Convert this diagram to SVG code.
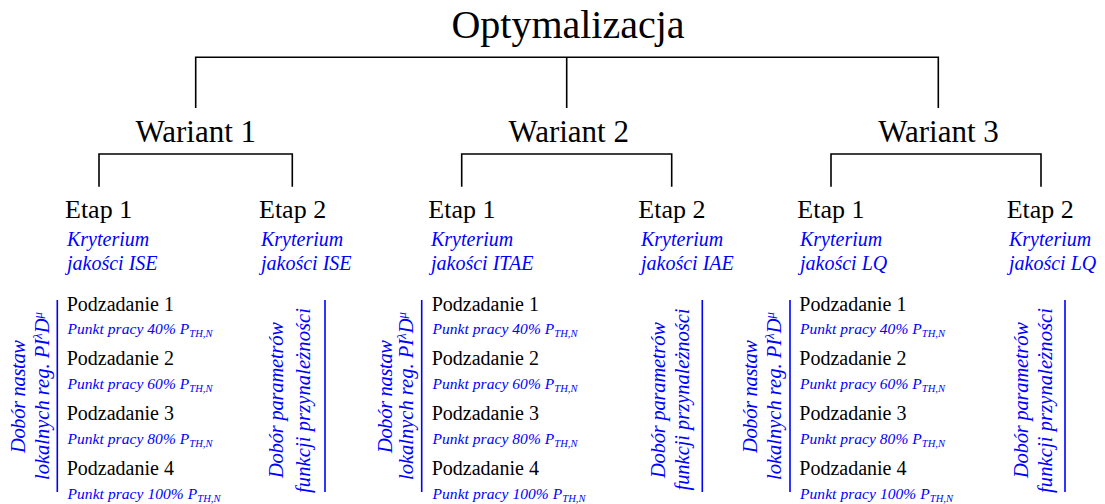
<svg xmlns="http://www.w3.org/2000/svg" width="1105" height="504" viewBox="0 0 1105 504">
<style>
text{font-family:"Liberation Serif","Times New Roman",serif;}
.title{font-size:40px;fill:#000;text-anchor:middle;}
.war{font-size:31px;fill:#000;text-anchor:middle;}
.etap{font-size:26px;fill:#000;}
.kry{font-size:20px;font-style:italic;fill:#0000ff;}
.pod{font-size:20px;fill:#000;}
.pkt{font-size:15.5px;font-style:italic;fill:#0000ff;}
.sub{font-size:10.5px;}
.rot{font-size:20.5px;font-style:italic;fill:#0000ff;text-anchor:middle;}
.conn{stroke:#000;stroke-width:1.6;fill:none;}
.bl{stroke:#0000ff;stroke-width:1.6;fill:none;}
</style>
<g id="connectors">
<path class="conn" d="M195.7,108 V57.3 H938.3 V108 M566.7,57.3 V108"/>
<path class="conn" d="M99,186.7 V154 H292.3 V186.7"/>
<path class="conn" d="M461.7,186.7 V154 H671.7 V186.7"/>
<path class="conn" d="M831,186.7 V154 H1041 V186.7"/>
</g>
<g id="root"><text class="title" x="568" y="37.5">Optymalizacja</text></g>
<g id="wariant1"><text class="war" x="195.8" y="141.7">Wariant 1</text></g>
<g id="wariant2"><text class="war" x="568.7" y="141.7">Wariant 2</text></g>
<g id="wariant3"><text class="war" x="938.5" y="141.7">Wariant 3</text></g>

<g id="w1-etap1">
<text class="etap" x="65" y="218.3">Etap 1</text>
<text class="kry" x="67" y="245.7">Kryterium</text>
<text class="kry" x="67" y="270.3">jakości ISE</text>
</g>
<g id="w1-etap2">
<text class="etap" x="259" y="218.3">Etap 2</text>
<text class="kry" x="261" y="245.7">Kryterium</text>
<text class="kry" x="261" y="270.3">jakości ISE</text>
</g>
<g id="w2-etap1">
<text class="etap" x="428.3" y="218.3">Etap 1</text>
<text class="kry" x="431" y="245.7">Kryterium</text>
<text class="kry" x="431" y="270.3">jakości ITAE</text>
</g>
<g id="w2-etap2">
<text class="etap" x="638.3" y="218.3">Etap 2</text>
<text class="kry" x="641" y="245.7">Kryterium</text>
<text class="kry" x="641" y="270.3">jakości IAE</text>
</g>
<g id="w3-etap1">
<text class="etap" x="797.3" y="218.3">Etap 1</text>
<text class="kry" x="800" y="245.7">Kryterium</text>
<text class="kry" x="800" y="270.3">jakości LQ</text>
</g>
<g id="w3-etap2">
<text class="etap" x="1006.7" y="218.3">Etap 2</text>
<text class="kry" x="1009" y="245.7">Kryterium</text>
<text class="kry" x="1009" y="270.3">jakości LQ</text>
</g>

<!-- Wariant 1 subtasks -->
<g id="w1-podzadania">
<line class="bl" x1="57.3" y1="300" x2="57.3" y2="492"/>
<text class="rot" transform="translate(25,396.5) rotate(-90)" textLength="113" lengthAdjust="spacing">Dobór nastaw</text>
<text class="rot" transform="translate(48.5,396) rotate(-90)">lokalnych reg. PI<tspan font-size="13" dy="-7">λ</tspan><tspan dy="7">D</tspan><tspan font-size="13" dy="-7">μ</tspan></text>
<text class="pod" x="66.7" y="310.7">Podzadanie 1</text>
<text class="pkt" x="67.5" y="333.8" textLength="145" lengthAdjust="spacing">Punkt pracy 40% P<tspan class="sub" dy="3">TH,N</tspan></text>
<text class="pod" x="66.7" y="365.3">Podzadanie 2</text>
<text class="pkt" x="67.5" y="388.6" textLength="145" lengthAdjust="spacing">Punkt pracy 60% P<tspan class="sub" dy="3">TH,N</tspan></text>
<text class="pod" x="66.7" y="420">Podzadanie 3</text>
<text class="pkt" x="67.5" y="443.6" textLength="145" lengthAdjust="spacing">Punkt pracy 80% P<tspan class="sub" dy="3">TH,N</tspan></text>
<text class="pod" x="66.7" y="475">Podzadanie 4</text>
<text class="pkt" x="67.5" y="498.6" textLength="153" lengthAdjust="spacing">Punkt pracy 100% P<tspan class="sub" dy="3">TH,N</tspan></text>
</g>
<g id="w1-funkcje">
<line class="bl" x1="325" y1="300" x2="325" y2="492"/>
<text class="rot" transform="translate(283,400) rotate(-90)" textLength="156" lengthAdjust="spacing">Dobór parametrów</text>
<text class="rot" transform="translate(310,400.5) rotate(-90)" textLength="185" lengthAdjust="spacing">funkcji przynależności</text>
</g>

<!-- Wariant 2 subtasks -->
<g id="w2-podzadania">
<line class="bl" x1="421.7" y1="300" x2="421.7" y2="492"/>
<text class="rot" transform="translate(391.5,396.5) rotate(-90)" textLength="113" lengthAdjust="spacing">Dobór nastaw</text>
<text class="rot" transform="translate(413,396) rotate(-90)">lokalnych reg. PI<tspan font-size="13" dy="-7">λ</tspan><tspan dy="7">D</tspan><tspan font-size="13" dy="-7">μ</tspan></text>
<text class="pod" x="431.7" y="310.7">Podzadanie 1</text>
<text class="pkt" x="432.5" y="333.8" textLength="145" lengthAdjust="spacing">Punkt pracy 40% P<tspan class="sub" dy="3">TH,N</tspan></text>
<text class="pod" x="431.7" y="365.3">Podzadanie 2</text>
<text class="pkt" x="432.5" y="388.6" textLength="145" lengthAdjust="spacing">Punkt pracy 60% P<tspan class="sub" dy="3">TH,N</tspan></text>
<text class="pod" x="431.7" y="420">Podzadanie 3</text>
<text class="pkt" x="432.5" y="443.6" textLength="145" lengthAdjust="spacing">Punkt pracy 80% P<tspan class="sub" dy="3">TH,N</tspan></text>
<text class="pod" x="431.7" y="475">Podzadanie 4</text>
<text class="pkt" x="432.5" y="498.6" textLength="153" lengthAdjust="spacing">Punkt pracy 100% P<tspan class="sub" dy="3">TH,N</tspan></text>
</g>
<g id="w2-funkcje">
<line class="bl" x1="702.3" y1="300" x2="702.3" y2="492"/>
<text class="rot" transform="translate(665,400) rotate(-90)" textLength="156" lengthAdjust="spacing">Dobór parametrów</text>
<text class="rot" transform="translate(688.5,399.5) rotate(-90)" textLength="182" lengthAdjust="spacing">funkcji przynależności</text>
</g>

<!-- Wariant 3 subtasks -->
<g id="w3-podzadania">
<line class="bl" x1="790" y1="300" x2="790" y2="492"/>
<text class="rot" transform="translate(757,396.5) rotate(-90)" textLength="113" lengthAdjust="spacing">Dobór nastaw</text>
<text class="rot" transform="translate(781,396) rotate(-90)">lokalnych reg. PI<tspan font-size="13" dy="-7">λ</tspan><tspan dy="7">D</tspan><tspan font-size="13" dy="-7">μ</tspan></text>
<text class="pod" x="799.3" y="310.7">Podzadanie 1</text>
<text class="pkt" x="800" y="333.8" textLength="145" lengthAdjust="spacing">Punkt pracy 40% P<tspan class="sub" dy="3">TH,N</tspan></text>
<text class="pod" x="799.3" y="365.3">Podzadanie 2</text>
<text class="pkt" x="800" y="388.6" textLength="145" lengthAdjust="spacing">Punkt pracy 60% P<tspan class="sub" dy="3">TH,N</tspan></text>
<text class="pod" x="799.3" y="420">Podzadanie 3</text>
<text class="pkt" x="800" y="443.6" textLength="145" lengthAdjust="spacing">Punkt pracy 80% P<tspan class="sub" dy="3">TH,N</tspan></text>
<text class="pod" x="799.3" y="475">Podzadanie 4</text>
<text class="pkt" x="800" y="498.6" textLength="153" lengthAdjust="spacing">Punkt pracy 100% P<tspan class="sub" dy="3">TH,N</tspan></text>
</g>
<g id="w3-funkcje">
<line class="bl" x1="1065" y1="300" x2="1065" y2="492"/>
<text class="rot" transform="translate(1028,400) rotate(-90)" textLength="156" lengthAdjust="spacing">Dobór parametrów</text>
<text class="rot" transform="translate(1052,400.5) rotate(-90)" textLength="185" lengthAdjust="spacing">funkcji przynależności</text>
</g>
</svg>
